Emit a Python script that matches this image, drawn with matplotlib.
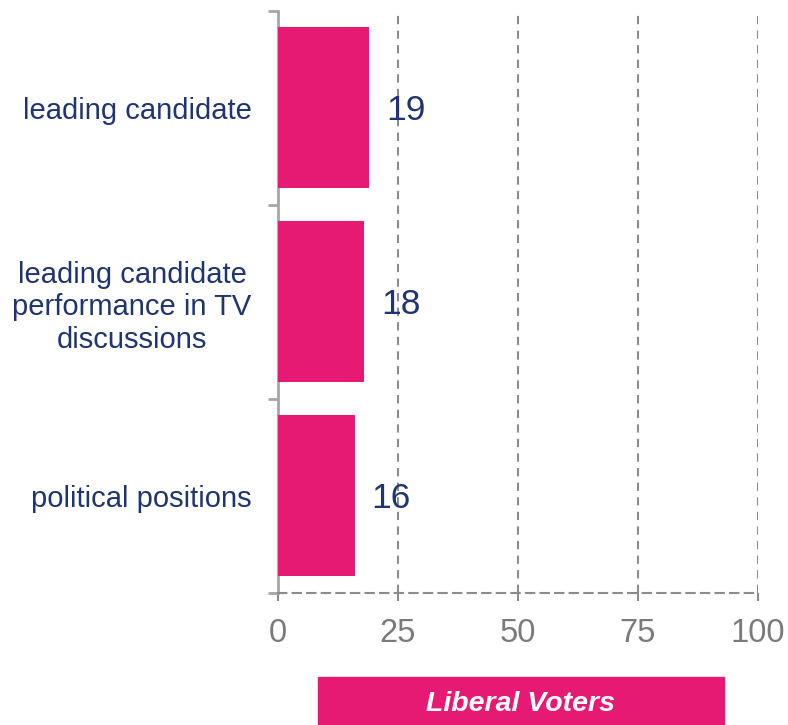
import matplotlib
matplotlib.use("Agg")
import matplotlib.pyplot as plt
from matplotlib.patches import Rectangle

# data
categories = ["leading candidate",
              "leading candidate\nperformance in TV\ndiscussions",
              "political positions"]
values = [19, 18, 16]
x_ticks = [0, 25, 50, 75, 100]
legend_label = "Liberal Voters"

pink = "#E61A72"
navy = "#213472"
grey = "#7a7a7a"

plt.rcParams["font.family"] = ["Liberation Sans", "DejaVu Sans"]

fig = plt.figure(figsize=(7.88, 7.25), dpi=100)
ax = fig.add_axes([0.3528, 0.1821, 0.6091, 0.8028])

pos = list(range(len(categories)))
ax.barh(pos, values, height=0.83, color=pink, zorder=3)

for p, v in zip(pos, values):
    ax.annotate(str(v), (v, p), xytext=(12, -2), textcoords="offset points",
                ha="left", va="center", fontsize=25.5, color=navy, zorder=4)

ax.set_xlim(0, 100)
ax.set_ylim(len(categories) - 0.5, -0.5)

ax.set_xticks(x_ticks)
ax.set_xticklabels([str(t) for t in x_ticks])
ax.tick_params(axis="x", direction="out", length=6, width=1.5, color="#8c8c8c",
               labelsize=23.5, labelcolor=grey, pad=12)

ax.set_yticks(pos)
ax.set_yticklabels(categories, ha="right", multialignment="center",
                   linespacing=1.2)
ax.tick_params(axis="y", which="major", length=0, labelsize=21,
               labelcolor=navy, pad=19)
ax.set_yticks([-0.5, 0.5, 1.5, 2.5], minor=True)
ax.tick_params(axis="y", which="minor", length=7, width=2, color="#a6a6a6",
               direction="out")

ax.xaxis.grid(True, linestyle=(0, (4, 3)), color="#8c8c8c", linewidth=1.5,
              zorder=0)
ax.set_axisbelow(True)

for s in ["top", "right"]:
    ax.spines[s].set_visible(False)
ax.spines["left"].set_color("#a6a6a6")
ax.spines["left"].set_linewidth(2)
ax.spines["bottom"].set_color("#8c8c8c")
ax.spines["bottom"].set_linewidth(1.5)
ax.spines["bottom"].set_linestyle((0, (4, 3)))

# legend box
fig.patches.append(Rectangle((0.4036, 0.0), 0.5152, 0.0662,
                             transform=fig.transFigure, color=pink,
                             zorder=0))
fig.text(0.661, 0.029, legend_label, ha="center", va="center",
         fontsize=20.5, fontweight="bold", fontstyle="italic", color="white")

fig.savefig("out.png", dpi=100)
